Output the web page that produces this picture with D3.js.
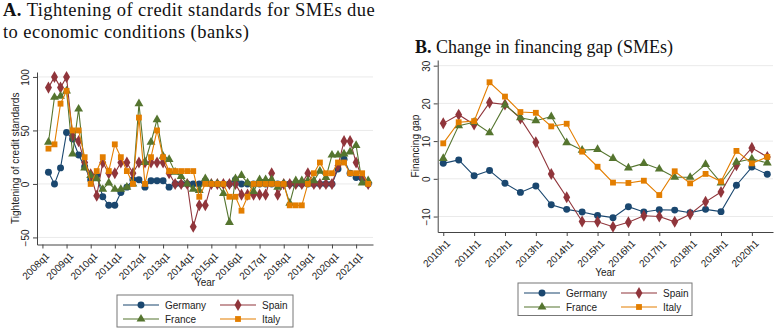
<!DOCTYPE html>
<html>
<head>
<meta charset="utf-8">
<script src="https://cdn.jsdelivr.net/npm/d3@7"></script>
<style>
  body { margin: 0; background: #fff; }
  svg { display: block; }
</style>
</head>
<body>
<div id="chart"></div>
<script>
// ---- Panel A data: quarterly, 2008q2 .. 2021q3 (index 1 = 2008q2) ----
const germanyA = [11, 0, 15, 48, 42, 27, 16, 4, 8, -12, -20, -20, -8, -3, 4, 4, -3, 3, 3, 3, -3, 0, 0, 0, 0, 0, 3, 0, 0, 0, 0, 4, 0, 0, 0, 0, 0, 0, 0, 0, 0, 0, 0, 0, 0, 0, 0, 0, 14, 23, 10, 6, 5, 0];
const spainA   = [90, 100, 90, 100, 45, 40, 20, 9, -11, 20, 10, 10, 20, 20, 10, 20, 20, 20, 20, 20, 10, 0, 0, 0, -40, -20, -20, 0, 0, 0, 0, 0, -10, -10, -10, -10, -10, 10, -10, 0, 0, 0, 0, 10, 0, 0, 0, 0, 17, 40, 40, 20, 6, 0];
const franceA  = [39, 81, 82, 87, 28, 70, 15, 8, 5, -5, 1, -5, -5, -3, 0, 75, 20, 39, 60, 26, 23, 11, 7, 0, -5, -6, 5, 0, 0, -9, -36, 5, 8, 1, -7, 4, 4, 4, -3, 0, -18, 3, 3, 3, 3, 12, 6, 27, 27, 28, 30, 36, 1, 3];
const italyA   = [33, 37, 75, 87, 50, 50, 25, 0, 12, 25, 12, 37, 25, 12, 0, 62, 0, 25, 50, 25, 12, 12, 12, 12, 12, -12, 0, 0, 0, 0, -12, -12, -25, -12, 0, 0, 0, 0, 0, 0, -20, -20, -20, 0, 10, 20, 10, 10, 20, 20, 10, 10, 10, 0];
const ticksA_y = [-50, 0, 50, 100];
const ticksA_x = ["2008q1", "2009q1", "2010q1", "2011q1", "2012q1", "2013q1", "2014q1", "2015q1", "2016q1", "2017q1", "2018q1", "2019q1", "2020q1", "2021q1"];

// ---- Panel B data: half-yearly, 2010h1 .. 2020h2 ----
const germanyB = [4.1, 5.0, 0.8, 2.2, -1.2, -3.6, -1.9, -6.9, -8.1, -8.8, -9.7, -10.3, -7.4, -8.8, -8.2, -8.3, -9.0, -8.1, -8.7, -1.7, 3.1, 1.2];
const spainB   = [14.7, 17.0, 14.4, 20.2, 19.7, 16.0, 9.7, 1.3, -4.9, -11.3, -11.4, -12.7, -11.5, -9.8, -10.0, -11.4, -9.4, -6.1, -3.5, 3.6, 8.2, 5.8];
const franceB  = [5.4, 14.1, 15.0, 12.2, 19.6, 16.2, 15.4, 16.5, 9.6, 7.6, 7.8, 5.4, 2.9, 4.1, 2.6, 0.4, 0.4, 3.8, -1.1, 4.4, 5.3, 4.2];
const italyB   = [9.4, 15.0, 15.3, 25.6, 21.8, 17.7, 17.5, 13.9, 14.6, 7.2, 3.2, -1.0, -1.1, -0.5, -4.3, 2.0, -1.2, 1.3, -0.7, 7.4, 4.1, 5.8];
const ticksB_y = [-10, 0, 10, 20, 30];
const ticksB_x = ["2010h1", "2011h1", "2012h1", "2013h1", "2014h1", "2015h1", "2016h1", "2017h1", "2018h1", "2019h1", "2020h1"];

const countries = ["Germany", "Spain", "France", "Italy"];
const colors = { Germany: "#1a476f", Spain: "#90353b", France: "#55752f", Italy: "#e37e00" };
const shapes = { Germany: d3.symbolCircle, Spain: d3.symbolDiamond, France: d3.symbolTriangle, Italy: d3.symbolSquare };
const sizes  = { Germany: 38, Spain: 42, France: 34, Italy: 34 };

const SANS = "'Liberation Sans', Arial, sans-serif";
const SERIF = "'Liberation Serif', 'Times New Roman', serif";
const FS = 10; // small text size

const svg = d3.select("#chart").append("svg")
    .attr("width", 774)
    .attr("height", 328);

// Draw one panel (grid, axes, series, legend)
function drawPanel(cfg) {
    const g = svg.append("g");
    const x = cfg.x, y = cfg.y;
    const [x0, x1] = x.range();
    const [yb, yt] = y.range();

    // gridlines
    g.selectAll("line.grid")
        .data(cfg.yTicks)
        .enter().append("line")
        .attr("x1", x0).attr("x2", x1)
        .attr("y1", d => y(d)).attr("y2", d => y(d))
        .attr("stroke", "#eaeaea")
        .attr("stroke-width", 1);

    // y axis
    const yAxis = g.append("g")
        .attr("transform", `translate(${x0},0)`)
        .call(d3.axisLeft(y).tickValues(cfg.yTicks).tickSize(4).tickSizeOuter(0));
    yAxis.select(".domain").attr("stroke", "#444");
    yAxis.selectAll(".tick line").attr("stroke", "#444");
    yAxis.selectAll("text")
        .attr("font-family", SANS).attr("font-size", FS).attr("fill", "#222")
        .attr("text-anchor", "middle")
        .attr("transform", "rotate(-90)")
        .attr("x", 0).attr("y", -cfg.yLabelOff).attr("dy", 0);

    // x axis
    const xAxis = g.append("g")
        .attr("transform", `translate(0,${yb})`)
        .call(d3.axisBottom(x).tickValues(cfg.xTickIdx).tickSize(4).tickSizeOuter(0)
            .tickFormat((d, i) => cfg.xTicks[i]));
    xAxis.select(".domain").attr("stroke", "#444");
    xAxis.selectAll(".tick line").attr("stroke", "#444");
    xAxis.selectAll("text")
        .attr("font-family", SANS).attr("font-size", FS).attr("fill", "#222")
        .attr("text-anchor", "end")
        .attr("x", 0).attr("y", 0).attr("dy", "0.72em")
        .attr("transform", "translate(2,7) rotate(-45)");

    // axis titles
    g.append("text")
        .attr("transform", `translate(${cfg.yTitleX},${(yb + yt) / 2}) rotate(-90)`)
        .attr("text-anchor", "middle")
        .attr("font-family", SANS).attr("font-size", FS).attr("fill", "#222")
        .text(cfg.yTitle);
    g.append("text")
        .attr("x", (x0 + x1) / 2).attr("y", cfg.xTitleY)
        .attr("text-anchor", "middle")
        .attr("font-family", SANS).attr("font-size", FS).attr("fill", "#222")
        .text("Year");

    // series
    const line = d3.line().x(d => x(d.i)).y(d => y(d.v));
    countries.forEach(c => {
        const pts = cfg.series[c].map((v, k) => ({ i: k + cfg.start, v }));
        g.append("path")
            .datum(pts)
            .attr("d", line)
            .attr("fill", "none")
            .attr("stroke", colors[c])
            .attr("stroke-width", 1.1);
        g.selectAll(null)
            .data(pts)
            .enter().append("path")
            .attr("d", d3.symbol().type(shapes[c]).size(sizes[c]))
            .attr("transform", d => `translate(${x(d.i)},${y(d.v)})`)
            .attr("fill", colors[c]);
    });

    // legend
    const L = cfg.legend;
    g.append("rect")
        .attr("x", L.x).attr("y", L.y).attr("width", L.w).attr("height", L.h)
        .attr("fill", "#fff").attr("stroke", "#777").attr("stroke-width", 1);
    const order = [["Germany", 0, 0], ["Spain", 1, 0], ["France", 0, 1], ["Italy", 1, 1]];
    order.forEach(([c, col, row]) => {
        const lx = L.x + 6 + col * L.colW;
        const ly = L.y + 10 + row * 14;
        g.append("line")
            .attr("x1", lx).attr("x2", lx + 36)
            .attr("y1", ly).attr("y2", ly)
            .attr("stroke", colors[c]).attr("stroke-width", 1.1);
        g.append("path")
            .attr("d", d3.symbol().type(shapes[c]).size(sizes[c]))
            .attr("transform", `translate(${lx + 18},${ly})`)
            .attr("fill", colors[c]);
        g.append("text")
            .attr("x", lx + 42).attr("y", ly + 3.5)
            .attr("font-family", SANS).attr("font-size", FS).attr("fill", "#222")
            .text(c);
    });
}

// Panel A
drawPanel({
    x: d3.scaleLinear().domain([-0.9, 54.8]).range([37, 373]),
    y: d3.scaleLinear().domain([-56.6, 104.6]).range([244.5, 72]),
    yTicks: ticksA_y,
    xTicks: ticksA_x,
    xTickIdx: ticksA_x.map((d, i) => i * 4),
    start: 1,
    series: { Germany: germanyA, Spain: spainA, France: franceA, Italy: italyA },
    yLabelOff: 8,
    yTitle: "Tightening of credit standards",
    yTitleX: 18.5,
    xTitleY: 286,
    legend: { x: 117, y: 295, w: 176, h: 32, colW: 97 }
});

// Panel B
drawPanel({
    x: d3.scaleLinear().domain([-0.36, 21.37]).range([437.7, 773]),
    y: d3.scaleLinear().domain([-14.1, 31.5]).range([232, 60]),
    yTicks: ticksB_y,
    xTicks: ticksB_x,
    xTickIdx: ticksB_x.map((d, i) => i * 2),
    start: 0,
    series: { Germany: germanyB, Spain: spainB, France: franceB, Italy: italyB },
    yLabelOff: 8,
    yTitle: "Financing gap",
    yTitleX: 418.5,
    xTitleY: 276,
    legend: { x: 518, y: 283, w: 174, h: 32.5, colW: 97 }
});

// Titles
const tA = svg.append("text")
    .attr("font-family", SERIF).attr("font-size", 18.5).attr("letter-spacing", 0.45).attr("fill", "#111");
tA.append("tspan").attr("x", 3).attr("y", 16).attr("font-weight", "bold").text("A.");
tA.append("tspan").text(" Tightening of credit standards for SMEs due");
svg.append("text")
    .attr("x", 3).attr("y", 38)
    .attr("font-family", SERIF).attr("font-size", 18.5).attr("letter-spacing", 0.45).attr("fill", "#111")
    .text("to economic conditions (banks)");

const tB = svg.append("text")
    .attr("font-family", SERIF).attr("font-size", 18).attr("fill", "#111");
tB.append("tspan").attr("x", 415).attr("y", 53).attr("font-weight", "bold").text("B.");
tB.append("tspan").text(" Change in financing gap (SMEs)");
</script>
</body>
</html>
